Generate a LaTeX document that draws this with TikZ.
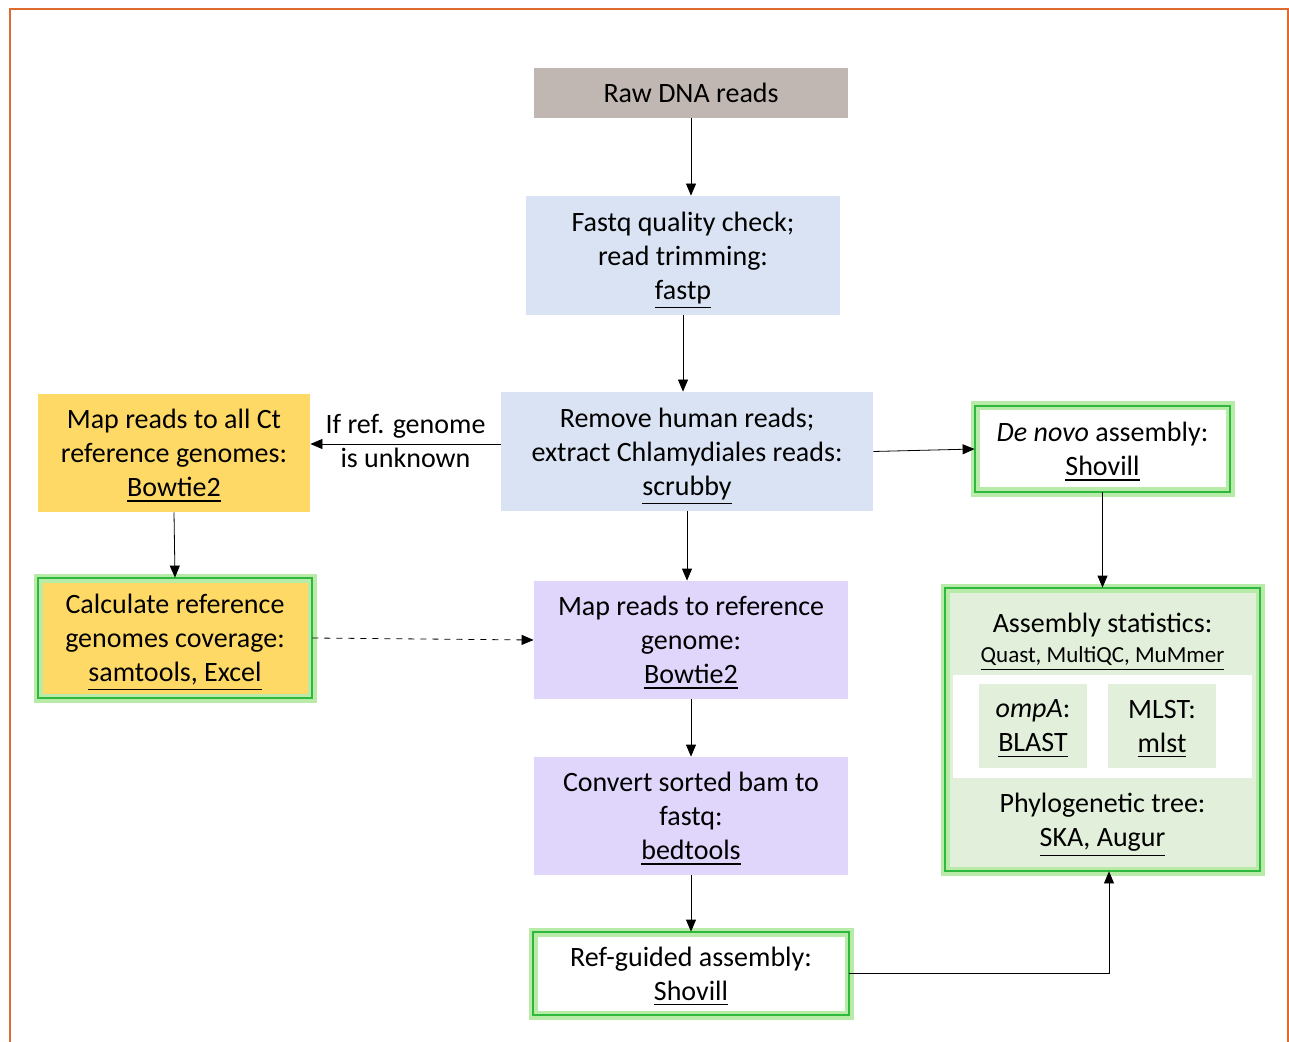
\documentclass[tikz,border=0pt]{standalone}
\usepackage{fontspec}
\setmainfont{Carlito}
\usepackage{xcolor}
\usepackage{amsmath}
\usepackage{tikz}
\usetikzlibrary{arrows.meta}
\definecolor{frameorange}{RGB}{221,106,46}
\definecolor{rawgrey}{RGB}{193,183,178}
\definecolor{stepblue}{RGB}{218,227,243}
\definecolor{refgold}{RGB}{255,217,102}
\definecolor{maplilac}{RGB}{224,213,250}
\definecolor{asmgreen}{RGB}{226,239,218}
\definecolor{boxgreen}{RGB}{46,184,62}
\definecolor{glowgreen}{RGB}{185,235,168}
\newcommand{\toolname}[1]{\smash[b]{\underline{#1}}}

\begin{document}
\begin{tikzpicture}[x=0.5pt, y=-0.5pt, >={Triangle[length=6pt,width=5pt]},
  font=\fontsize{14}{17}\selectfont,
  stepbox/.style={rectangle, align=center, inner sep=0pt},
  glowbox/.style={postaction={draw=glowgreen, line width=4.5pt}, postaction={draw=boxgreen, line width=1.4pt}}]
\useasboundingbox (0,0) rectangle (1289,1042);
% frame
\draw[frameorange, line width=1.2pt] (10,1042) -- (10,9) -- (1288,9) -- (1288,1042);

% middle column
\node (raw) [stepbox, fill=rawgrey, minimum width=157pt, minimum height=25pt] at (691,93) {Raw DNA reads};
\node (fastq) [stepbox, fill=stepblue, minimum width=157pt, minimum height=59.5pt] at (683,255.5) {Fastq quality check;\\read trimming:\\\toolname{fastp}};
\node (human) [stepbox, fill=stepblue, minimum width=186pt, minimum height=59.5pt] at (687,451.5) {Remove human reads;\\extract Chlamydiales reads:\\\toolname{scrubby}};
\node (mapref) [stepbox, fill=maplilac, minimum width=157pt, minimum height=59pt] at (691,640) {Map reads to reference\\genome:\\\toolname{Bowtie2}};
\node (convert) [stepbox, fill=maplilac, minimum width=157pt, minimum height=59pt] at (691,816) {Convert sorted bam to\\fastq:\\\toolname{bedtools}};
\node (refguided) [stepbox, glowbox, fill=white, minimum width=158pt, minimum height=41.5pt] at (691,973.5) {Ref-guided assembly:\\\toolname{Shovill}};

% left column
\node (mapct) [stepbox, fill=refgold, minimum width=136pt, minimum height=59pt] at (174,453) {Map reads to all Ct\\reference genomes:\\\toolname{Bowtie2}};
\node (coverage) [stepbox, glowbox, fill=refgold, minimum width=137pt, minimum height=60pt] at (175,638) {Calculate reference\\genomes coverage:\\\toolname{samtools, Excel}};

% right column
\node (denovo) [stepbox, glowbox, fill=white, minimum width=127.5pt, minimum height=43pt] at (1102.5,449) {\textit{De novo} assembly:\\\toolname{Shovill}};
\fill[asmgreen] (945,588) rectangle (1260,871);
\fill[white] (953,675) rectangle (1252,778);
\node (asm) [stepbox, glowbox, minimum width=157.5pt, minimum height=141.5pt] at (1102.5,729.5) {};
\node (asmstats) [stepbox, align=center] at (1102.5,638) {Assembly statistics:\\[-2pt]{\fontsize{11.5}{14}\selectfont\toolname{Quast, MultiQC, MuMmer}}};
\node (ompa) [stepbox, fill=asmgreen, minimum width=54pt, minimum height=42pt] at (1033,726) {\textit{ompA}:\\\toolname{BLAST}};
\node (mlst) [stepbox, fill=asmgreen, minimum width=54pt, minimum height=42pt] at (1162,726) {MLST:\\\toolname{mlst}};
\node (phylo) [stepbox] at (1102.5,820) {Phylogenetic tree:\\\toolname{SKA, Augur}};

% connectors
\draw[->] (raw.south) -- (raw.south |- fastq.north);
\draw[->] (fastq.south) -- (fastq.south |- human.north);
\draw[->] ([yshift=3.75pt]human.west) -- ([yshift=3.75pt]human.west -| mapct.east)
  node[midway, above=-0.5pt] {If ref. genome} node[midway, below=-1.5pt] {is unknown};
\draw[->] (human.east) -- (denovo.west);
\draw[->] (human.south) -- (human.south |- mapref.north);
\draw[->] (mapct.south) -- (coverage.north);
\draw[->, dashed] (coverage.east) -- (mapref.west);
\draw[->] (mapref.south) -- (convert.north);
\draw[->] (convert.south) -- (refguided.north);
\draw[->] (denovo.south) -- (asm.north);
\draw[->] (refguided.east) -| ([xshift=3.25pt]asm.south);
\end{tikzpicture}
\end{document}
